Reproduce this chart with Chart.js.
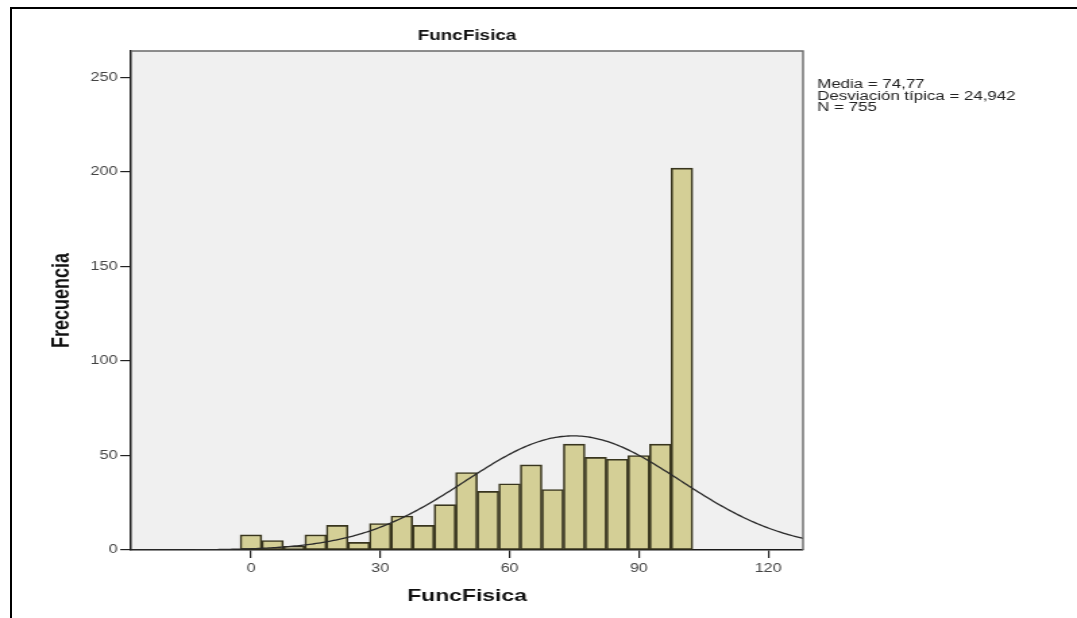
<!DOCTYPE html>
<html>
<head>
<meta charset="utf-8">
<title>FuncFisica</title>
<script src="https://cdn.jsdelivr.net/npm/chart.js@4.4.1/dist/chart.umd.min.js"></script>
<style>
  html, body { margin: 0; padding: 0; background: #fff; overflow: hidden; }
  body { width: 1077px; height: 618px; position: relative; }
  /* the canvas is drawn at 798 px wide and widened to the page width */
  #lienzo { position: absolute; left: 0; top: 0; width: 798px; height: 618px;
            transform: scale(1.34962, 1); transform-origin: 0 0; }
  #marcoPagina { position: absolute; left: 10px; top: 7px; right: 0; bottom: 0;
                 border-top: 2px solid #000; border-left: 2px solid #000; pointer-events: none; }
</style>
</head>
<body>
<div id="lienzo"><canvas id="grafico" width="798" height="618"></canvas></div>
<div id="marcoPagina"></div>
<script>
// Histogram classes (centre of each 5-point bin) and their counts
const CLASES = [0, 5, 10, 15, 20, 25, 30, 35, 40, 45, 50, 55, 60, 65, 70, 75, 80, 85, 90, 95, 100];
const FRECUENCIAS = [8, 5, 2, 8, 13, 4, 14, 18, 13, 24, 41, 31, 35, 45, 32, 56, 49, 48, 50, 56, 202];
const ANCHO_CLASE = 5;

// Axis ticks and ranges
const X_TICKS = [0, 30, 60, 90, 120];
const Y_TICKS = [0, 50, 100, 150, 200, 250];
const X_RANGO = [-27.84, 128.1];
const Y_RANGO = [0, 264];

// Summary statistics shown beside the plot
const MEDIA = 74.77;
const DESV_TIPICA = 24.942;
const N_CASOS = 755;
const ESTADISTICOS = ['Media = 74,77', 'Desviación típica = 24,942', 'N = 755'];

const FUENTE = '"Liberation Sans", Arial, Helvetica, sans-serif';

// Normal curve for the stated mean / SD, scaled to counts per bin
const curvaNormal = [];
for (let x = X_RANGO[0]; x <= X_RANGO[1] + 0.5; x += 0.5) {
  const z = (x - MEDIA) / DESV_TIPICA;
  const y = N_CASOS * ANCHO_CLASE * Math.exp(-0.5 * z * z) / (DESV_TIPICA * Math.sqrt(2 * Math.PI));
  curvaNormal.push({ x: x, y: y });
}

const fondoYMarco = {
  id: 'fondoYMarco',
  beforeDraw(chart) {
    const { ctx, chartArea: a } = chart;
    ctx.save();
    ctx.fillStyle = '#f0f0f0';
    ctx.fillRect(a.left, a.top, a.right - a.left, a.bottom - a.top);
    ctx.restore();
  },
  afterDatasetsDraw(chart) {
    const { ctx, chartArea: a } = chart;
    ctx.save();
    ctx.strokeStyle = '#6a6a6a';
    ctx.lineWidth = 1.4;
    ctx.beginPath();
    ctx.moveTo(a.left, a.top);
    ctx.lineTo(a.right, a.top);
    ctx.lineTo(a.right, a.bottom);
    ctx.stroke();
    ctx.restore();
  },
  afterDraw(chart) {
    const { ctx, chartArea: a } = chart;
    ctx.save();
    ctx.fillStyle = '#222';
    ctx.font = '12.5px ' + FUENTE;
    ctx.textAlign = 'left';
    ctx.textBaseline = 'middle';
    ESTADISTICOS.forEach((t, i) => ctx.fillText(t, a.right + 10.5, 85 + i * 11.5));
    ctx.restore();
  }
};

new Chart(document.getElementById('grafico'), {
  type: 'bar',
  data: {
    datasets: [
      {
        type: 'line',
        data: curvaNormal,
        borderColor: '#2b2b2b',
        borderWidth: 1.3,
        pointRadius: 0,
        fill: false,
        tension: 0,
        order: 0
      },
      {
        type: 'bar',
        data: CLASES.map((c, i) => ({ x: c, y: FRECUENCIAS[i] })),
        backgroundColor: '#d4cf96',
        borderColor: '#38351e',
        borderWidth: 1.6,
        borderSkipped: false,
        barPercentage: 1,
        categoryPercentage: 1,
        order: 1
      }
    ]
  },
  options: {
    responsive: false,
    animation: false,
    devicePixelRatio: 1,
    layout: { padding: { left: 0, right: 203, top: 0, bottom: 0 } },
    plugins: {
      legend: { display: false },
      tooltip: { enabled: false },
      title: {
        display: true,
        fullSize: false,
        text: 'FuncFisica',
        color: '#111',
        font: { family: FUENTE, size: 14, weight: 'bold' },
        padding: { top: 27.6, bottom: 6.6 }
      }
    },
    scales: {
      x: {
        type: 'linear',
        min: X_RANGO[0],
        max: X_RANGO[1],
        offset: false,
        afterBuildTicks: s => { s.ticks = X_TICKS.map(v => ({ value: v })); },
        afterFit: s => { s.height = 68; },
        ticks: { color: '#444', font: { family: FUENTE, size: 12 }, padding: 3, maxRotation: 0, autoSkip: false },
        grid: { offset: false, drawOnChartArea: false, drawTicks: true, tickLength: 8, color: '#222', lineWidth: 1.2 },
        border: { display: true, color: '#1a1a1a', width: 1.5 },
        title: {
          display: true,
          text: 'FuncFisica',
          color: '#111',
          font: { family: FUENTE, size: 17, weight: 'bold' },
          padding: { top: 4, bottom: 11.8 }
        }
      },
      y: {
        min: Y_RANGO[0],
        max: Y_RANGO[1],
        afterBuildTicks: s => { s.ticks = Y_TICKS.map(v => ({ value: v })); },
        afterFit: s => { s.width = 97.07; },
        ticks: { color: '#444', font: { family: FUENTE, size: 12 }, padding: 2 },
        grid: { drawOnChartArea: false, drawTicks: true, tickLength: 8, color: '#222', lineWidth: 1.2 },
        border: { display: true, color: '#1a1a1a', width: 1.5 },
        title: {
          display: true,
          text: 'Frecuencia',
          color: '#111',
          font: { family: FUENTE, size: 18, weight: 'bold' },
          padding: { top: 35, bottom: 4 }
        }
      }
    }
  },
  plugins: [fondoYMarco]
});
</script>
</body>
</html>
